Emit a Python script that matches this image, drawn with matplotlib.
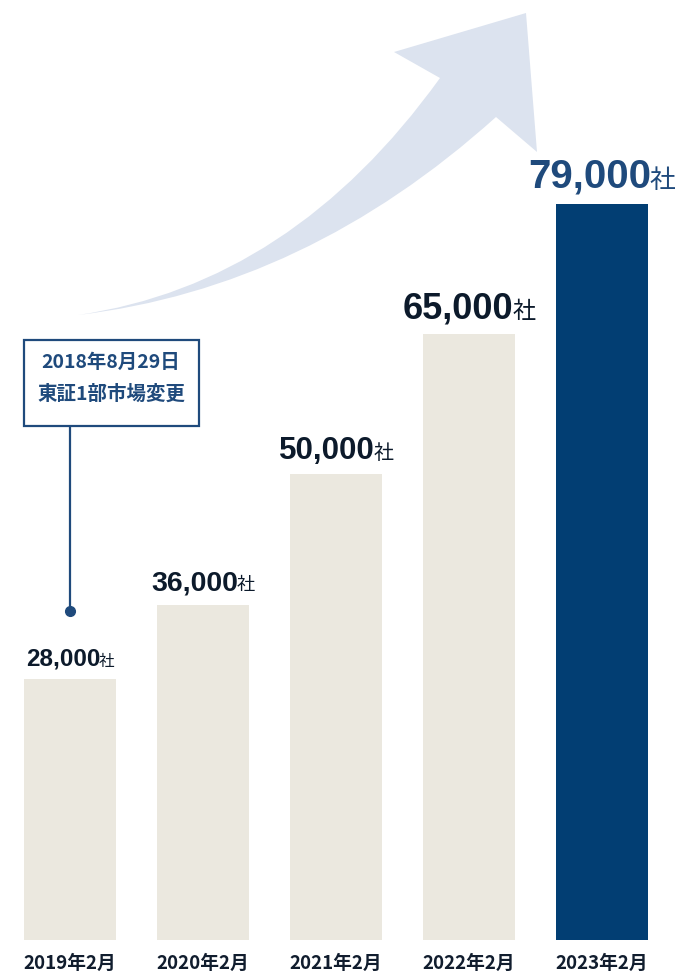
import numpy as np
import matplotlib
matplotlib.use("Agg")
import matplotlib.pyplot as plt
from matplotlib.path import Path
from matplotlib.patches import PathPatch, Rectangle
from matplotlib.offsetbox import TextArea, HPacker, AnnotationBbox

plt.rcParams['font.family'] = ['Liberation Sans', 'Noto Sans CJK JP', 'DejaVu Sans']

# data
years = ['2019年2月', '2020年2月', '2021年2月', '2022年2月', '2023年2月']
companies = [28000, 36000, 50000, 65000, 79000]
label_sizes = [17.5, 20.5, 22.5, 26, 29]
note_lines = ['2018年8月29日', '東証1部市場変更']

W, H = 684, 973
NAVY = '#1f4a7c'
fig = plt.figure(figsize=(W / 100, H / 100), dpi=100)

# overlay in pixel units for the decorations (arrow, callout)
ov = fig.add_axes([0, 0, 1, 1])
ov.set_xlim(0, W)
ov.set_ylim(H, 0)
ov.axis('off')

# big curved arrow
verts = [(78, 315), (292, 284), (440, 78), (394, 52), (526, 13),
         (537, 152), (496, 117), (306, 288), (78, 315), (78, 315)]
codes = [Path.MOVETO, Path.CURVE3, Path.CURVE3, Path.LINETO, Path.LINETO,
         Path.LINETO, Path.LINETO, Path.CURVE3, Path.CURVE3, Path.CLOSEPOLY]
ov.add_patch(PathPatch(Path(verts, codes), facecolor='#dce3ef', edgecolor='none'))

# callout box
ov.add_patch(Rectangle((24, 340), 175, 86, facecolor='white', edgecolor=NAVY, lw=1.6))
ov.text(111, 362, note_lines[0], ha='center', va='center', fontsize=14,
        color=NAVY, family=['Noto Sans CJK JP'], fontweight='bold')
ov.text(111, 394, note_lines[1], ha='center', va='center', fontsize=14,
        color=NAVY, family=['Noto Sans CJK JP'], fontweight='bold')
ov.plot([70, 70], [427, 610], color=NAVY, lw=1.6)
ov.plot([70], [611], 'o', color=NAVY, ms=7)

# bars
ax = fig.add_axes([0, 0, 1, 1])
ax.patch.set_alpha(0)
ax.axis('off')
x = np.arange(len(years))
bar_colors = ['#ebe8df'] * 4 + ['#023e73']
ax.bar(x, companies, width=0.69, color=bar_colors)
px_per_unit = 0.009316
ax.set_xlim(-70 / 133, 614 / 133)
ax.set_ylim(-(H - 940) / px_per_unit, 940 / px_per_unit)

for i, v in enumerate(companies):
    c = NAVY if i == len(companies) - 1 else '#0c1a2b'
    num = TextArea(f'{v:,}', textprops=dict(fontsize=label_sizes[i], fontweight='bold', color=c))
    unit = TextArea('社', textprops=dict(fontsize=label_sizes[i] * 0.64, color=c,
                                         family=['Noto Sans CJK JP']))
    box = HPacker(children=[num, unit], pad=0, sep=-1, align='baseline')
    ab = AnnotationBbox(box, (i, v), xybox=(0, 6), boxcoords='offset points',
                        box_alignment=(0.5, 0), frameon=False, pad=0)
    ax.add_artist(ab)

    ax.text(i, -23 / px_per_unit, years[i], ha='center', va='center', fontsize=13.5,
            color='#111d2e', family=['Noto Sans CJK JP'], fontweight='bold')

fig.savefig('out.png', dpi=100)
